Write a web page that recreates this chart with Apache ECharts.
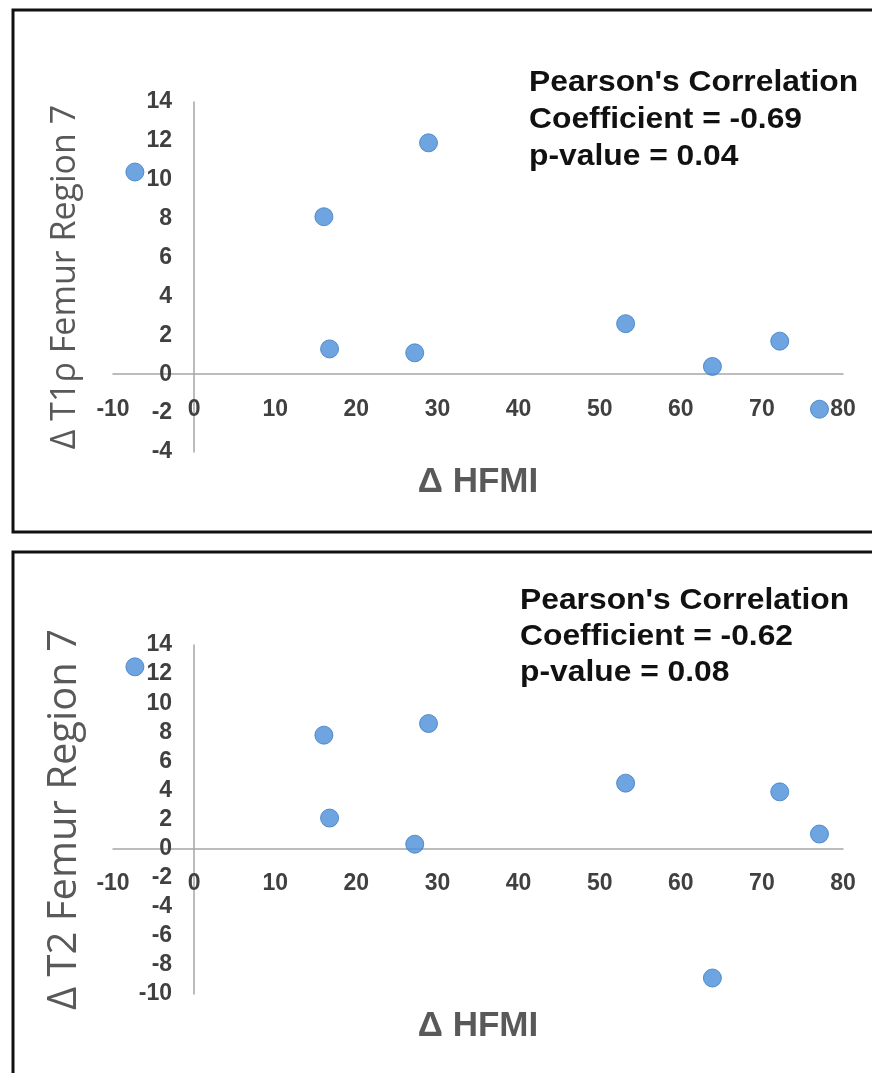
<!DOCTYPE html>
<html>
<head>
<meta charset="utf-8">
<script src="https://cdn.jsdelivr.net/npm/echarts@6/dist/echarts.min.js"></script>
<style>
  html, body { margin: 0; padding: 0; background: #fff; }
  #chart { width: 872px; height: 1073px; }
</style>
</head>
<body>
<div id="chart"></div>
<script>
// same subjects in both panels
const hfmi = [-7.3, 16.0, 28.9, 16.7, 27.2, 53.2, 63.9, 72.2, 77.1];
const t1rho = [10.4, 8.1, 11.9, 1.3, 1.1, 2.6, 0.4, 1.7, -1.8];
const t2 = [12.5, 7.8, 8.6, 2.1, 0.3, 4.5, -8.9, 3.9, 1.0];

const xRange = [-10, 80, 10];
const t1Range = [-4, 14, 2];
const t2Range = [-10, 14, 2];

const t1Note = ["Pearson's Correlation", 'Coefficient = -0.69', 'p-value = 0.04'];
const t2Note = ["Pearson's Correlation", 'Coefficient = -0.62', 'p-value = 0.08'];

const chart = echarts.init(document.getElementById('chart'));

// grid boxes in px
const plotLeft = 113, plotRight = 843;
const panels = [
  { top: 102, bottom: 452, range: t1Range },
  { top: 645, bottom: 994, range: t2Range }
];

const tickFont = {
  fontFamily: 'Liberation Sans, Arial, sans-serif',
  fontWeight: 'bold',
  fontSize: 23,
  color: '#404040'
};
const lineStyle = { color: '#a6a6a6', width: 1.5 };

// the axes cross at zero: shift them from the grid edge with offset
function zeroOffsetX(p) {
  const r = p.range;
  const zeroPx = p.top + (p.bottom - p.top) * r[1] / (r[1] - r[0]);
  return zeroPx - p.bottom;
}
function zeroOffsetY() {
  const zeroPx = plotLeft + (plotRight - plotLeft) * (0 - xRange[0]) / (xRange[1] - xRange[0]);
  return plotLeft - zeroPx;
}

function xAxisOf(gridIndex, gap) {
  return {
    gridIndex: gridIndex,
    type: 'value',
    position: 'bottom',
    offset: zeroOffsetX(panels[gridIndex]),
    min: xRange[0], max: xRange[1], interval: xRange[2],
    name: 'Δ HFMI',
    nameLocation: 'middle',
    nameGap: gap,
    nameMoveOverlap: false,
    nameTextStyle: { fontFamily: 'Liberation Sans, Arial', fontWeight: 'bold', fontSize: 35, color: '#595959' },
    axisLine: { show: true, onZero: false, lineStyle: lineStyle },
    axisTick: { show: false },
    splitLine: { show: false },
    axisLabel: Object.assign({ margin: 24 }, tickFont)
  };
}

function yAxisOf(gridIndex, title, size, gap) {
  const r = panels[gridIndex].range;
  return {
    gridIndex: gridIndex,
    type: 'value',
    position: 'left',
    offset: zeroOffsetY(),
    min: r[0], max: r[1], interval: r[2],
    name: title,
    nameLocation: 'middle',
    nameRotate: 90,
    nameGap: gap,
    nameMoveOverlap: false,
    nameTextStyle: { fontFamily: 'Open Sans, sans-serif', fontSize: size, color: '#595959' },
    axisLine: { show: true, onZero: false, lineStyle: lineStyle },
    axisTick: { show: false },
    splitLine: { show: false },
    axisLabel: Object.assign({ margin: 22 }, tickFont)
  };
}

function points(ys) {
  return hfmi.map((x, i) => [x, ys[i]]);
}

const dotStyle = { color: '#4a8fd9', borderColor: '#3b7bc4', borderWidth: 1 };

let option = {
  backgroundColor: '#fff',
  animation: false,
  grid: panels.map(p => ({
    left: plotLeft, right: 872 - plotRight, top: p.top, bottom: 1073 - p.bottom,
    outerBoundsMode: 'none', containLabel: false
  })),
  xAxis: [xAxisOf(0, 91), xAxisOf(1, 160)],
  yAxis: [
    yAxisOf(0, 'Δ T1ρ Femur Region 7', 34, 112),
    yAxisOf(1, 'Δ T2 Femur Region 7', 40, 110)
  ],
  series: [
    {
      type: 'scatter', xAxisIndex: 0, yAxisIndex: 0,
      symbolSize: 18, itemStyle: dotStyle,
      data: points(t1rho)
    },
    {
      type: 'scatter', xAxisIndex: 1, yAxisIndex: 1,
      symbolSize: 18, itemStyle: dotStyle,
      data: points(t2)
    }
  ],
  graphic: [
    // panel frames
    { type: 'rect', shape: { x: 13, y: 10, width: 880, height: 522 },
      style: { fill: null, stroke: '#111', lineWidth: 3 }, silent: true },
    { type: 'rect', shape: { x: 13, y: 552, width: 880, height: 560 },
      style: { fill: null, stroke: '#111', lineWidth: 3 }, silent: true },
    // correlation notes
    { type: 'text', x: 529, y: 64, scaleX: 1.06,
      style: { text: t1Note.join('\n'), fontFamily: 'Liberation Sans, Arial', fontWeight: 'bold',
               fontSize: 30, lineHeight: 37, fill: '#111' } },
    { type: 'text', x: 520, y: 583, scaleX: 1.06,
      style: { text: t2Note.join('\n'), fontFamily: 'Liberation Sans, Arial', fontWeight: 'bold',
               fontSize: 30, lineHeight: 36, fill: '#111' } }
  ]
};

chart.setOption(option);
</script>
</body>
</html>
